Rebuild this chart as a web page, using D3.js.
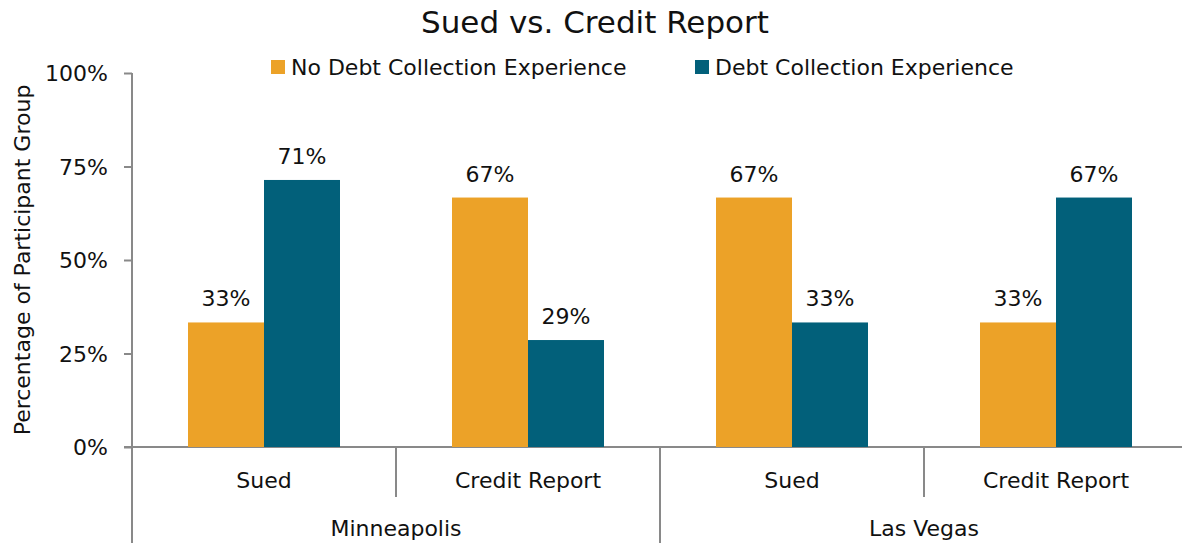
<!DOCTYPE html>
<html>
<head>
<meta charset="utf-8">
<script src="https://cdn.jsdelivr.net/npm/d3@7"></script>
<style>
  body { margin: 0; background: #fff; }
  text { font-family: "DejaVu Sans", "Liberation Sans", Arial, sans-serif; fill: #111; }
</style>
</head>
<body>
<svg id="chart" width="1182" height="543"></svg>
<script>
// Chart data
const cities = ["Minneapolis", "Las Vegas"];
const outcomes = ["Sued", "Credit Report"];
const seriesNames = ["No Debt Collection Experience", "Debt Collection Experience"];
const seriesColors = ["#eca228", "#02607a"];
const noDebtValues = [0.333, 0.667, 0.667, 0.333];   // Minneapolis Sued, Credit; Las Vegas Sued, Credit
const debtValues   = [0.714, 0.286, 0.333, 0.667];
const yTicks = [0, 0.25, 0.5, 0.75, 1];

// Build rows: one per city/outcome pair
let rows = [];
cities.forEach((c, ci) => {
    outcomes.forEach((o, oi) => {
        let i = ci * outcomes.length + oi;
        rows.push({key: c + "|" + o, city: c, outcome: o, values: [noDebtValues[i], debtValues[i]]});
    });
});

let svg = d3.select("#chart");
let margin = {top: 73, left: 132, bottom: 447};
let plotRight = 1188;

// Scales
let x = d3.scaleBand()
    .domain(rows.map(d => d.key))
    .range([margin.left, plotRight])
    .padding(0);

let xSub = d3.scaleBand()
    .domain(seriesNames)
    .range([0, x.bandwidth()])
    .paddingInner(0)
    .paddingOuter(0.737);

let y = d3.scaleLinear()
    .domain([0, 1])
    .range([margin.bottom, margin.top]);

const axisColor = "#898989";

// Y axis
let yAxis = svg.append("g")
    .attr("transform", "translate(" + margin.left + ",0)")
    .call(d3.axisLeft(y).tickValues(yTicks).tickFormat(d3.format(".0%")).tickSize(8).tickPadding(16));
yAxis.select(".domain").remove();
yAxis.selectAll(".tick line").attr("stroke", axisColor).attr("stroke-width", 2);
yAxis.selectAll(".tick text").style("font-size", "22px").attr("dy", "0.35em").attr("fill", "#111");

// Y axis line (extends down through the category labels)
svg.append("line")
    .attr("x1", margin.left).attr("x2", margin.left)
    .attr("y1", y(1)).attr("y2", 543)
    .attr("stroke", axisColor).attr("stroke-width", 2);

// Baseline
svg.append("line")
    .attr("x1", margin.left - 8).attr("x2", plotRight)
    .attr("y1", y(0)).attr("y2", y(0))
    .attr("stroke", axisColor).attr("stroke-width", 2);

// Bars
let groups = svg.selectAll(".grp")
    .data(rows)
    .enter()
    .append("g")
    .attr("class", "grp")
    .attr("transform", d => "translate(" + x(d.key) + ",0)");

groups.selectAll("rect")
    .data(d => d.values.map((v, i) => ({series: seriesNames[i], value: v, idx: i})))
    .enter()
    .append("rect")
    .attr("x", d => xSub(d.series))
    .attr("y", d => y(d.value))
    .attr("width", xSub.bandwidth())
    .attr("height", d => y(0) - y(d.value))
    .style("fill", d => seriesColors[d.idx]);

// Value labels
groups.selectAll(".val")
    .data(d => d.values.map((v, i) => ({series: seriesNames[i], value: v})))
    .enter()
    .append("text")
    .attr("class", "val")
    .attr("x", d => xSub(d.series) + xSub.bandwidth() / 2)
    .attr("y", d => y(d.value) - 16)
    .attr("text-anchor", "middle")
    .style("font-size", "22px")
    .text(d => d3.format(".0%")(d.value));

// Outcome labels
groups.append("text")
    .attr("x", x.bandwidth() / 2)
    .attr("y", 488)
    .attr("text-anchor", "middle")
    .style("font-size", "22px")
    .text(d => d.outcome);

// Separators between outcomes (short) and cities (long)
rows.forEach((d, i) => {
    if (i === 0) return;
    let long = (i % outcomes.length) === 0;
    svg.append("line")
        .attr("x1", x(d.key)).attr("x2", x(d.key))
        .attr("y1", y(0)).attr("y2", long ? 543 : 497)
        .attr("stroke", axisColor).attr("stroke-width", 2);
});

// City labels
cities.forEach((c, ci) => {
    let first = x(c + "|" + outcomes[0]);
    let last = x(c + "|" + outcomes[outcomes.length - 1]) + x.bandwidth();
    svg.append("text")
        .attr("x", (first + last) / 2)
        .attr("y", 536)
        .attr("text-anchor", "middle")
        .style("font-size", "22px")
        .text(c);
});

// Y axis title
svg.append("text")
    .attr("transform", "translate(30," + ((y(0) + y(1)) / 2) + ") rotate(-90)")
    .attr("text-anchor", "middle")
    .style("font-size", "22px")
    .text("Percentage of Participant Group");

// Title
svg.append("text")
    .attr("x", 595)
    .attr("y", 33)
    .attr("text-anchor", "middle")
    .style("font-size", "31px")
    .text("Sued vs. Credit Report");

// Legend
let legendX = [271, 695];
seriesNames.forEach((s, i) => {
    let g = svg.append("g").attr("transform", "translate(" + legendX[i] + ",60)");
    g.append("rect").attr("width", 14).attr("height", 14).style("fill", seriesColors[i]);
    g.append("text").attr("x", 20).attr("y", 15).style("font-size", "22px").text(s);
});
</script>
</body>
</html>
